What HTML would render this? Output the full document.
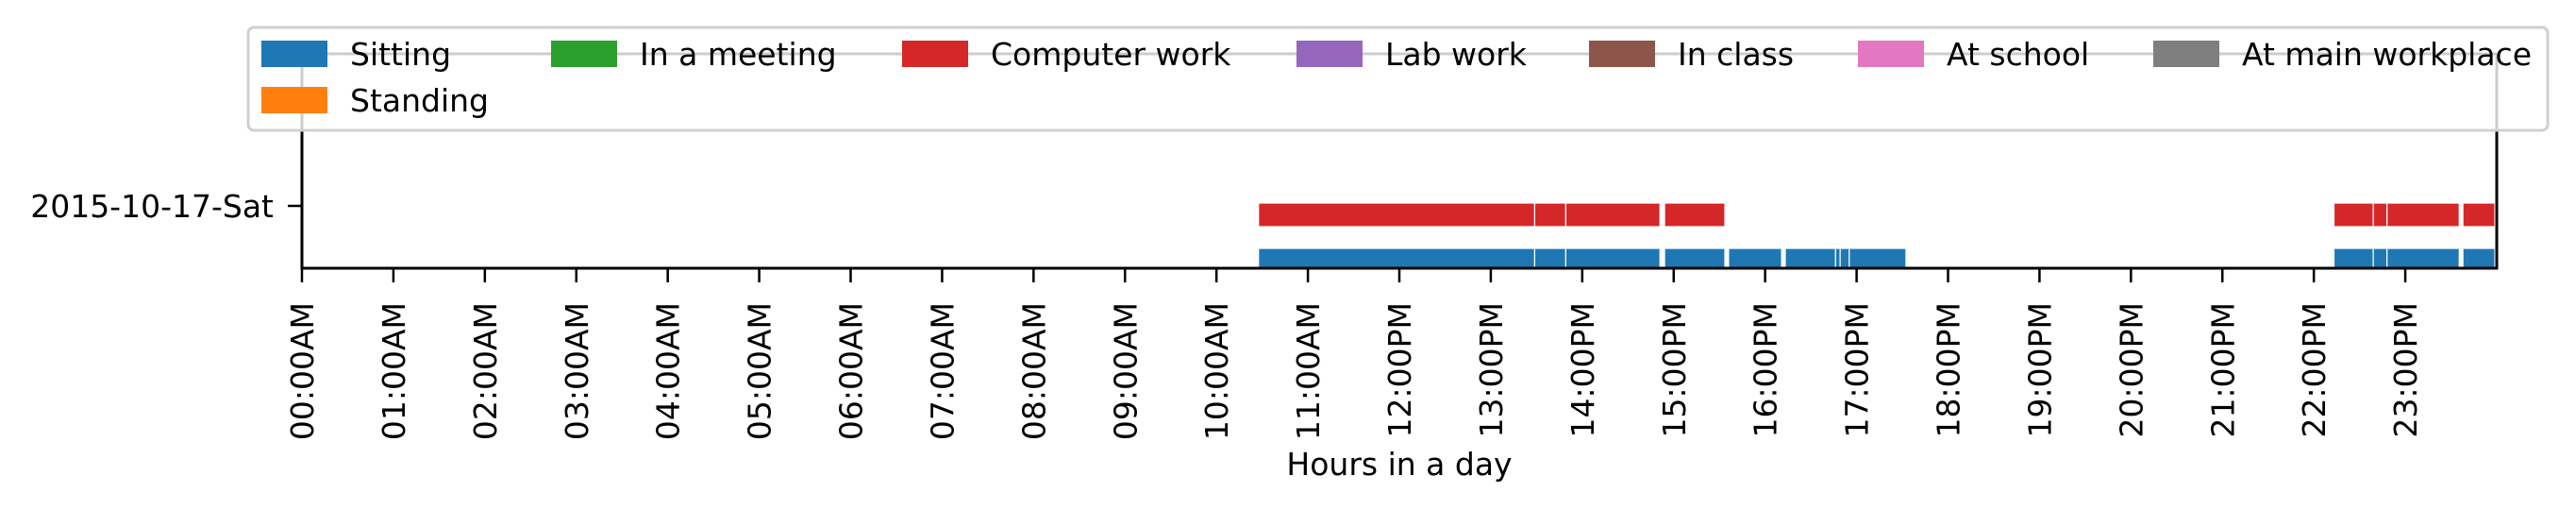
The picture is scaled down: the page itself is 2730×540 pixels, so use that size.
<!DOCTYPE html>
<html><head><meta charset="utf-8"><style>
html,body{margin:0;padding:0;background:#fff;}
svg{display:block;font-family:"DejaVu Sans","Liberation Sans",sans-serif;}
</style></head><body>
<svg id="chart" width="2730" height="540" viewBox="0 0 2730 540" xmlns="http://www.w3.org/2000/svg">
<g id="plot"></g>
<g id="axes"></g>
<g id="legend"></g>
</svg>
<script>
const categories = ["2015-10-17-Sat"];
const sittingSegments = [[10.46,13.48],[13.48,13.82],[13.82,14.85],[14.90,15.56],[15.60,16.18],[16.22,16.77],[16.77,16.82],[16.82,16.92],[16.92,17.54],[22.22,22.65],[22.65,22.80],[22.80,23.59],[23.63,23.98]];
const computerSegments = [[10.46,13.48],[13.48,13.82],[13.82,14.85],[14.90,15.56],[22.22,22.65],[22.65,22.80],[22.80,23.59],[23.63,23.98]];
const hourTicks = [0,1,2,3,4,5,6,7,8,9,10,11,12,13,14,15,16,17,18,19,20,21,22,23];
const tickLabels = ["00:00AM","01:00AM","02:00AM","03:00AM","04:00AM","05:00AM","06:00AM","07:00AM","08:00AM","09:00AM","10:00AM","11:00AM","12:00PM","13:00PM","14:00PM","15:00PM","16:00PM","17:00PM","18:00PM","19:00PM","20:00PM","21:00PM","22:00PM","23:00PM"];
const legendNames = ["Sitting","In a meeting","Computer work","Lab work","In class","At school","At main workplace","Standing"];
const legendColors = ["#1f77b4","#2ca02c","#d62728","#9467bd","#8c564b","#e377c2","#7f7f7f","#ff7f0e"];

const NS="http://www.w3.org/2000/svg";
const L=320,R=2646,T=57,B=284;
function x(h){return L+h*(R-L)/24;}
function mk(tag,attrs,parent){const e=document.createElementNS(NS,tag);for(const k in attrs)e.setAttribute(k,attrs[k]);parent.appendChild(e);return e;}
const plot=document.getElementById('plot'),axes=document.getElementById('axes'),leg=document.getElementById('legend');

function drawSeries(segs,y0,y1,color,name){
  segs.forEach((s,i)=>{
    const r=mk('rect',{x:x(s[0]),y:y0,width:x(s[1])-x(s[0]),height:y1-y0,fill:color,stroke:'#fff','stroke-width':1.2},plot);
    
    
  });
}
drawSeries(computerSegments,215,240,'#d62728','computer-work');
drawSeries(sittingSegments,263,284,'#1f77b4','sitting');

[[L,T,L,B],[L,B,R,B],[R,T,R,B],[L,T,R,T]].forEach((p,i)=>{
  const ln=mk('line',{x1:p[0],y1:p[1],x2:p[2],y2:p[3],stroke:'#000','stroke-width':3,'stroke-linecap':'square'},axes);
  
  
});
categories.forEach((c,i)=>{
  const yy=218;
  const t=mk('line',{x1:L-15,y1:yy,x2:L,y2:yy,stroke:'#000','stroke-width':2.5},axes);
  
  
  const tx=mk('text',{x:L-30,y:yy+12,'text-anchor':'end','font-size':33,fill:'#000'},axes);
  tx.textContent=c;
  
  
});
hourTicks.forEach((h,i)=>{
  const xx=x(h);
  const t=mk('line',{x1:xx,y1:B,x2:xx,y2:B+15,stroke:'#000','stroke-width':2.5},axes);
  
  
  const tx=mk('text',{x:0,y:0,'text-anchor':'end','font-size':33,fill:'#000',transform:`translate(${xx+12},${B+36}) rotate(-90)`},axes);
  tx.textContent=tickLabels[i];
  
  
});
const xl=mk('text',{x:(L+R)/2,y:503,'text-anchor':'middle','font-size':33,fill:'#000'},axes);
xl.textContent='Hours in a day';



const box=mk('rect',{x:263,y:29,width:2437,height:109,rx:6,fill:'#fff','fill-opacity':0.8,stroke:'#d0d0d0','stroke-width':3},leg);


const colX=[277,584,956,1374,1684,1969,2282];
legendNames.forEach((n,i)=>{
  const col=i%7,row=Math.floor(i/7);
  const px=colX[col],cy=row?106:57;
  const g=mk('g',{},leg);
  
  
  mk('rect',{x:px,y:cy-14,width:70,height:28,fill:legendColors[i]},g);
  const t=mk('text',{x:px+94,y:cy+12,'font-size':33,fill:'#000'},g);
  t.textContent=n;
});
</script>
</body></html>
